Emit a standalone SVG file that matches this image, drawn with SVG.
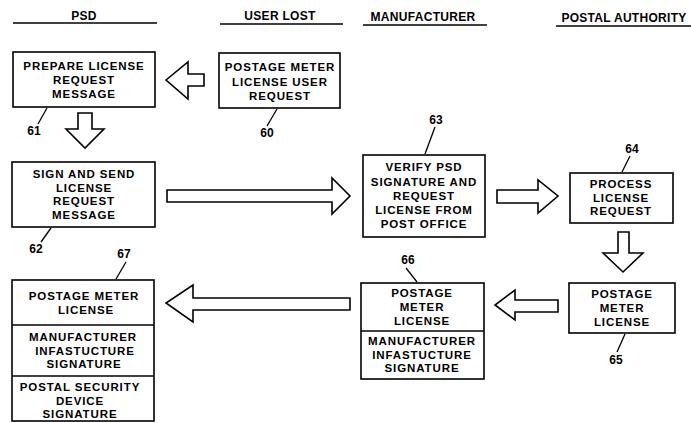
<svg xmlns="http://www.w3.org/2000/svg" width="691" height="423" viewBox="0 0 691 423">
<style>
.t{font-family:"Liberation Sans",Arial,sans-serif;font-weight:bold;font-size:11.5px;letter-spacing:0.9px;fill:#000;text-anchor:middle}
.h{font-family:"Liberation Sans",Arial,sans-serif;font-weight:bold;font-size:12px;letter-spacing:0.3px;fill:#000;text-anchor:middle}
.n{font-family:"Liberation Sans",Arial,sans-serif;font-weight:bold;font-size:12px;fill:#000;text-anchor:middle}
.b{fill:#fff;stroke:#000;stroke-width:1.6}
.l{stroke:#000;stroke-width:1.3;fill:none}
.a{fill:#fff;stroke:#000;stroke-width:1.6;stroke-linejoin:miter}
</style>
<rect width="691" height="423" fill="#fff"/>
<g id="headers">
<text class="h" x="84" y="20">PSD</text>
<line class="l" x1="13" y1="23" x2="157" y2="23"/>
<text class="h" x="280" y="20">USER LOST</text>
<line class="l" x1="220" y1="24" x2="343" y2="24"/>
<text class="h" x="423" y="21">MANUFACTURER</text>
<line class="l" x1="363" y1="25" x2="487" y2="25"/>
<text class="h" x="624" y="22">POSTAL AUTHORITY</text>
<line class="l" x1="556" y1="26" x2="691" y2="26"/>
</g>
<g id="node60">
<rect class="b" x="219" y="53" width="121" height="55"/>
<text class="t" x="280" y="71">POSTAGE METER</text>
<text class="t" x="280" y="85.5">LICENSE USER</text>
<text class="t" x="280" y="100">REQUEST</text>
<line class="l" x1="277" y1="109" x2="267" y2="126"/>
<text class="n" x="267" y="137">60</text>
</g>
<g id="node61">
<rect class="b" x="13" y="52" width="142" height="55"/>
<text class="t" x="84" y="70">PREPARE LICENSE</text>
<text class="t" x="84" y="84">REQUEST</text>
<text class="t" x="84" y="98">MESSAGE</text>
<line class="l" x1="47" y1="108" x2="38" y2="124"/>
<text class="n" x="34" y="135">61</text>
</g>
<g id="node62">
<rect class="b" x="12" y="162" width="143" height="65"/>
<text class="t" x="84" y="178">SIGN AND SEND</text>
<text class="t" x="84" y="191.5">LICENSE</text>
<text class="t" x="84" y="205">REQUEST</text>
<text class="t" x="84" y="218.5">MESSAGE</text>
<line class="l" x1="51" y1="228" x2="41" y2="242"/>
<text class="n" x="36" y="253">62</text>
</g>
<g id="node63">
<rect class="b" x="363" y="155" width="122" height="82"/>
<text class="t" x="424" y="171">VERIFY PSD</text>
<text class="t" x="424" y="185.5">SIGNATURE AND</text>
<text class="t" x="424" y="200">REQUEST</text>
<text class="t" x="424" y="214">LICENSE FROM</text>
<text class="t" x="424" y="228">POST OFFICE</text>
<line class="l" x1="435" y1="127" x2="425" y2="154"/>
<text class="n" x="436" y="124">63</text>
</g>
<g id="node64">
<rect class="b" x="570" y="173" width="103" height="50"/>
<text class="t" x="621" y="188">PROCESS</text>
<text class="t" x="621" y="201.5">LICENSE</text>
<text class="t" x="621" y="215">REQUEST</text>
<line class="l" x1="622" y1="172" x2="630" y2="156"/>
<text class="n" x="632" y="153">64</text>
</g>
<g id="node65">
<rect class="b" x="569" y="283" width="106" height="50"/>
<text class="t" x="622" y="298">POSTAGE</text>
<text class="t" x="622" y="312">METER</text>
<text class="t" x="622" y="326">LICENSE</text>
<line class="l" x1="625" y1="334" x2="617" y2="352"/>
<text class="n" x="616" y="364">65</text>
</g>
<g id="node66">
<rect class="b" x="361" y="283" width="123" height="96"/>
<line class="l" x1="361" y1="331" x2="484" y2="331"/>
<text class="t" x="422" y="297">POSTAGE</text>
<text class="t" x="422" y="311">METER</text>
<text class="t" x="422" y="325">LICENSE</text>
<text class="t" x="422" y="345">MANUFACTURER</text>
<text class="t" x="422" y="358.5">INFASTUCTURE</text>
<text class="t" x="422" y="372">SIGNATURE</text>
<line class="l" x1="417" y1="282" x2="406" y2="268"/>
<text class="n" x="408" y="264">66</text>
</g>
<g id="node67">
<rect class="b" x="12" y="280" width="142" height="141"/>
<line class="l" x1="12" y1="325" x2="154" y2="325"/>
<line class="l" x1="12" y1="376" x2="154" y2="376"/>
<text class="t" x="84" y="300">POSTAGE METER</text>
<text class="t" x="86" y="314">LICENSE</text>
<text class="t" x="83" y="341">MANUFACTURER</text>
<text class="t" x="85" y="354.5">INFASTUCTURE</text>
<text class="t" x="84" y="368">SIGNATURE</text>
<text class="t" x="80" y="391">POSTAL SECURITY</text>
<text class="t" x="80" y="404.5">DEVICE</text>
<text class="t" x="80" y="418">SIGNATURE</text>
<line class="l" x1="116" y1="279" x2="126" y2="262"/>
<text class="n" x="124" y="258">67</text>
</g>
<g id="connectors">
<polygon class="a" points="166,80 188,62 188,74 204,74 204,86 188,86 188,99"/>
<polygon class="a" points="78,113 92,113 92,129 104,129 85,148 66,129 78,129"/>
<polygon class="a" points="167,190 332,190 332,178 350,196 332,214 332,202 167,202"/>
<polygon class="a" points="497,190 538,190 538,180 558,196 538,213 538,203 497,203"/>
<polygon class="a" points="618,232 629,232 629,253 643,253 623,272 603,253 618,253"/>
<polygon class="a" points="558,300 515,300 515,290 495,305 515,320 515,312 558,312"/>
<polygon class="a" points="350,298 193,298 193,285 166,303 193,322 193,310 350,310"/>
</g>
</svg>
